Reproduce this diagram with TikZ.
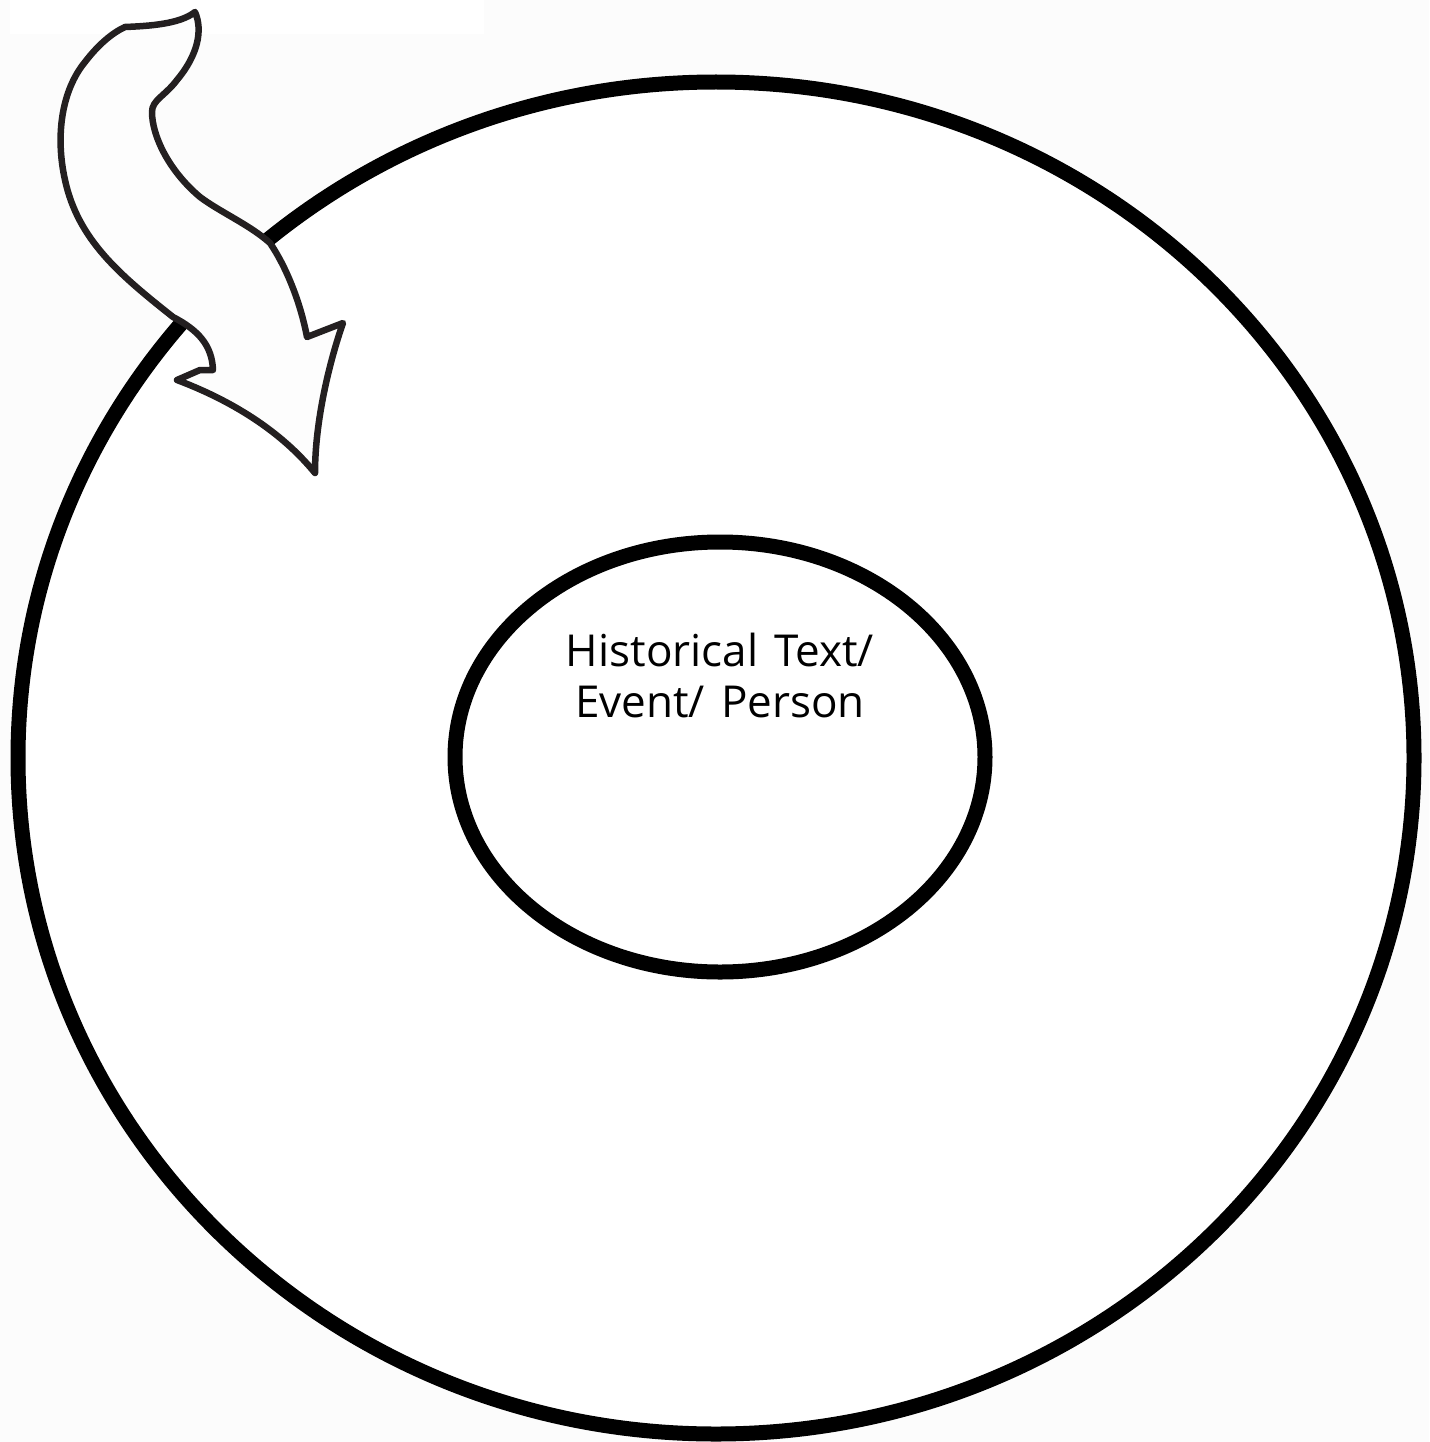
\documentclass[tikz,border=0pt]{standalone}
\usepackage{fontspec}
\setmainfont[WordSpace=1.4]{Open Sans}
\usetikzlibrary{shapes.geometric}
\definecolor{bgc}{RGB}{252,252,252}
\definecolor{arrowink}{RGB}{35,31,32}
\definecolor{arrowfill}{RGB}{253,253,253}
\tikzset{
  ring/.style={draw=black, line width=15pt, fill=white, ellipse, inner sep=0pt, outer sep=0pt},
  lbl/.style={anchor=base, font=\fontsize{44}{50}\selectfont, inner sep=0pt},
  bentarrow/.style={draw=arrowink, line width=6.5pt, fill=arrowfill, line join=round}
}
\begin{document}
\begin{tikzpicture}[x=1pt,y=-1pt]
\useasboundingbox (0,0) rectangle (1429,1442);
\fill[bgc] (0,0) rectangle (1429,1442);
\fill[white] (10,0) rectangle (484,34);
\node[ring, minimum width=1396pt, minimum height=1352pt] (outer) at (716,758) {};
\node[ring, minimum width=530pt, minimum height=430pt] (inner) at (720,757) {};
\node[lbl] (t1) at (720,666) {Historical Text/};
\node[lbl] (t2) at (720,717) {Event/ Person};
\draw[bentarrow]
  (125,27) .. controls (150,26) and (180,24) .. (195,12)
  .. controls (203,30) and (198,55) .. (177,80)
  .. controls (165,96) and (152,100) .. (152,112)
  .. controls (152,135) and (168,170) .. (200,197)
  .. controls (220,212) and (250,225) .. (270,243)
  .. controls (285,265) and (300,300) .. (307,337)
  -- (343,323)
  .. controls (330,360) and (315,420) .. (315,473)
  .. controls (280,430) and (230,400) .. (177,380)
  -- (200,370) -- (213,370)
  .. controls (212,345) and (198,330) .. (173,317)
  .. controls (120,275) and (78,240) .. (65,180)
  .. controls (55,135) and (62,90) .. (85,62)
  .. controls (98,45) and (112,33) .. (125,27) -- cycle;
\end{tikzpicture}
\end{document}
